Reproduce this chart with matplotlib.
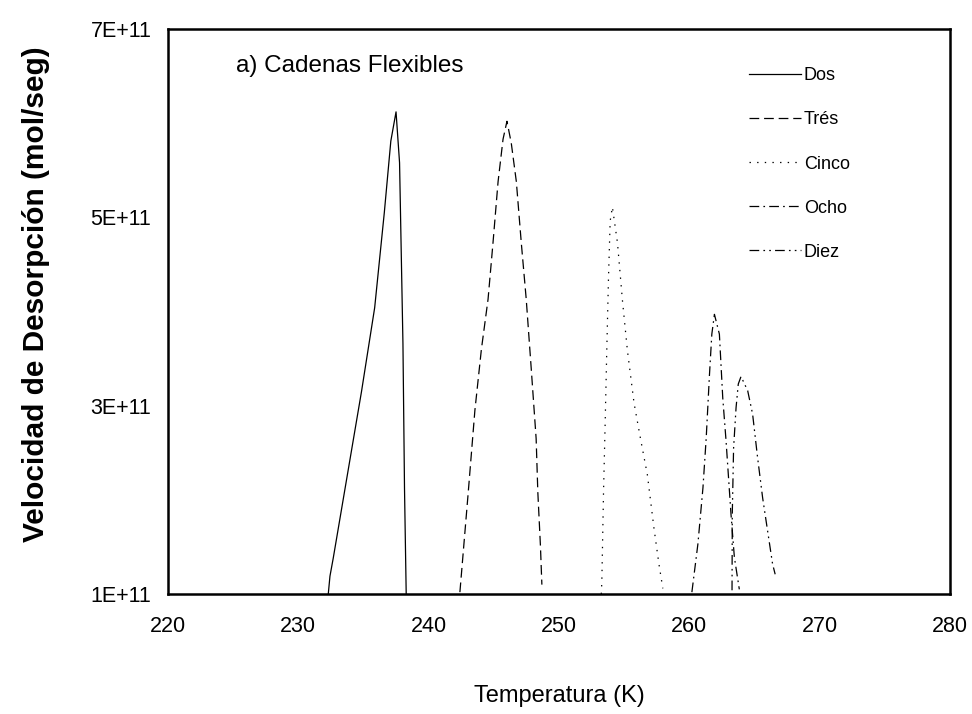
import numpy as np
import matplotlib
matplotlib.use("Agg")
import matplotlib.pyplot as plt

plt.rcParams.update({
    "font.family": ["Liberation Sans", "DejaVu Sans"],
    "lines.scale_dashes": False,
})

# temperaturas (K) y velocidades (unidades de 1E+11 mol/seg)
dos_t = [232.3, 232.43, 232.68, 233.44, 234.85, 235.86, 236.6, 237.1, 237.5,
         237.77, 238.03, 238.15, 238.28]
dos_v = [1.0, 1.19, 1.38, 2.0, 3.15, 4.04, 5.05, 5.81, 6.12,
         5.58, 3.66, 2.12, 1.0]

tres_t = [242.4, 243.04, 243.55, 244.05, 244.56, 244.94, 245.33, 245.71, 246.01,
          246.34, 246.73, 247.11, 247.49, 247.87, 248.25, 248.38, 248.58, 248.69]
tres_v = [1.02, 2.08, 2.95, 3.6, 4.13, 4.73, 5.38, 5.83, 6.02,
          5.79, 5.38, 4.73, 4.13, 3.4, 2.65, 2.08, 1.51, 1.1]

cinco_t = [253.25, 253.29, 253.42, 253.55, 253.67, 253.8, 253.93, 254.1,
           254.49, 254.87, 255.25, 255.76, 256.27, 256.78, 257.29, 257.67, 257.97]
cinco_v = [1.0, 1.13, 2.08, 2.84, 3.59, 4.35, 4.96, 5.11,
           4.73, 4.12, 3.59, 3.03, 2.64, 2.27, 1.7, 1.32, 1.06]

ocho_t = [260.2, 260.66, 261.05, 261.3, 261.55, 261.73, 261.93,
          262.31, 262.57, 262.82, 263.2, 263.46, 263.84]
ocho_v = [1.02, 1.53, 2.13, 2.66, 3.33, 3.76, 3.97,
          3.76, 3.08, 2.63, 1.85, 1.39, 1.05]

diez_t = [263.28, 263.3, 263.4, 263.59, 263.76, 263.97,
          264.48, 264.86, 265.24, 265.63, 266.01, 266.39, 266.59]
diez_v = [1.04, 1.85, 2.55, 2.98, 3.23, 3.31,
          3.16, 2.91, 2.45, 2.02, 1.67, 1.32, 1.21]

series = [
    ("Dos", dos_t, dos_v, "-"),
    ("Trés", tres_t, tres_v, (0, (7, 3.5))),
    ("Cinco", cinco_t, cinco_v, (0, (1, 4.5))),
    ("Ocho", ocho_t, ocho_v, (0, (7, 3, 1.2, 3))),
    ("Diez", diez_t, diez_v, (0, (7, 3, 1.2, 3, 1.2, 3))),
]

x_ticks = [220, 230, 240, 250, 260, 270, 280]
y_ticks = [1e11, 3e11, 5e11, 7e11]
y_tick_labels = ["1E+11", "3E+11", "5E+11", "7E+11"]

fig = plt.figure(figsize=(9.72, 7.14), dpi=100)
ax = fig.add_axes([0.1728, 0.168, 0.8045, 0.7914])

for name, t, v, ls in series:
    ax.plot(t, np.array(v) * 1e11, color="black", linewidth=0.9, linestyle=ls, label=name)

ax.set_xlim(220, 280)
ax.set_ylim(1e11, 7e11)
ax.set_xticks(x_ticks)
ax.set_yticks(y_ticks)
ax.set_yticklabels(y_tick_labels)
ax.tick_params(length=0, labelsize=15.5)
ax.tick_params(axis="x", pad=16)
ax.tick_params(axis="y", pad=12)
for s in ax.spines.values():
    s.set_linewidth(1.8)

ax.set_xlabel("Temperatura (K)", fontsize=17)
ax.xaxis.set_label_coords(0.5, -0.161)
ax.set_ylabel("Velocidad de Desorpción (mol/seg)", fontsize=21.5, fontweight="bold")
ax.yaxis.set_label_coords(-0.151, 0.531)

ax.text(0.087, 0.9345, "a) Cadenas Flexibles", transform=ax.transAxes, fontsize=17.5,
        ha="left", va="center")

ax.legend(loc="upper left", bbox_to_anchor=(0.731, 0.948), frameon=False, fontsize=13,
          handlelength=2.9, handletextpad=0.15, labelspacing=1.5, borderpad=0)

fig.savefig("out.png", dpi=100)
